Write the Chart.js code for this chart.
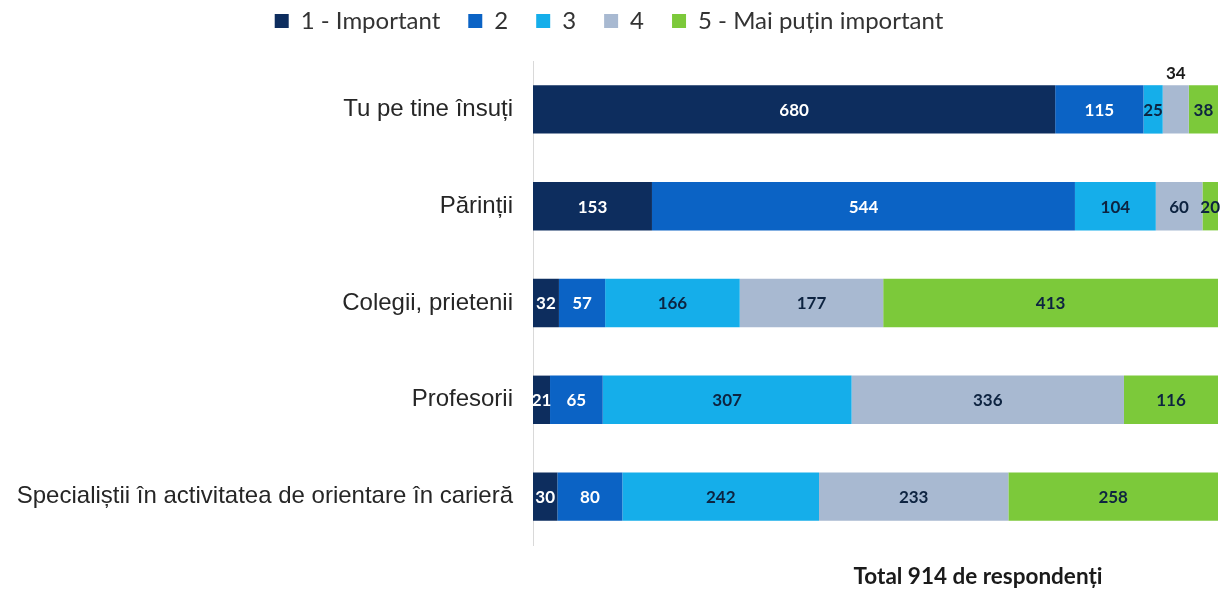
<!DOCTYPE html>
<html>
<head>
<meta charset="utf-8">
<script src="https://cdn.jsdelivr.net/npm/chart.js@4"></script>
<style>
  html, body { margin: 0; padding: 0; background: #fff; }
  #wrap { width: 1228px; height: 590px; position: relative; }
</style>
</head>
<body>
<div id="wrap"><canvas id="chart"></canvas></div>
<script>
// Categories and answer counts per importance level
const categories = [
  'Tu pe tine însuți',
  'Părinții',
  'Colegii, prietenii',
  'Profesorii',
  'Specialiștii în activitatea de orientare în carieră'
];
const seriesNames = ['1 - Important', '2', '3', '4', '5 - Mai puțin important'];
const level1 = [680, 153, 32, 21, 30];
const level2 = [115, 544, 57, 65, 80];
const level3 = [25, 104, 166, 307, 242];
const level4 = [34, 60, 177, 336, 233];
const level5 = [38, 20, 413, 116, 258];
const footerText = 'Total 914 de respondenți';

const seriesColors = ['#0d2d5e', '#0b63c5', '#15aeea', '#a8b9d1', '#7cc93a'];
const labelColors = ['#ffffff', '#ffffff', '#0d2340', '#0d2340', '#0d2340'];

const levels = [level1, level2, level3, level4, level5];
// row totals -> 100% stacked bars
const rowTotals = categories.map((c, i) => levels.reduce((s, arr) => s + arr[i], 0));

// the "34" label sits above its bar in the original
function isRaised(datasetIndex, index) {
  return datasetIndex === 3 && index === 0;
}

const valueLabels = {
  id: 'valueLabels',
  afterDatasetsDraw(chart) {
    const ctx = chart.ctx;
    ctx.save();
    ctx.font = 'bold 17px Lato, "Open Sans", sans-serif';
    ctx.textAlign = 'center';
    ctx.textBaseline = 'middle';
    chart.data.datasets.forEach((ds, di) => {
      const meta = chart.getDatasetMeta(di);
      meta.data.forEach((bar, i) => {
        const cx = (bar.x + bar.base) / 2;
        let cy = bar.y + 1;
        let color = labelColors[di];
        if (isRaised(di, i)) {
          cy = bar.y - bar.height / 2 - 12;
          color = '#1a1a1a';
        }
        ctx.fillStyle = color;
        ctx.fillText(String(levels[di][i]), cx, cy);
      });
    });
    ctx.restore();
  }
};

// extra gap between legend and plot
const legendGap = {
  id: 'legendGap',
  beforeInit(chart) {
    const fit = chart.legend.fit;
    chart.legend.fit = function() {
      fit.bind(chart.legend)();
      this.height += 18;
    };
  }
};

const footer = {
  id: 'footer',
  afterDraw(chart) {
    const ctx = chart.ctx;
    ctx.save();
    ctx.font = 'bold 22.5px Lato, "Open Sans", sans-serif';
    ctx.fillStyle = '#1a1a1a';
    ctx.textAlign = 'center';
    ctx.textBaseline = 'middle';
    const a = chart.chartArea;
    ctx.fillText(footerText, 978, a.bottom + 32);
    ctx.restore();
  }
};

new Chart(document.getElementById('chart'), {
  type: 'bar',
  data: {
    labels: categories,
    datasets: levels.map((arr, di) => ({
      label: seriesNames[di],
      data: arr.map((v, i) => v / rowTotals[i] * 100),
      backgroundColor: seriesColors[di],
      borderWidth: 0,
      barPercentage: 0.5,
      categoryPercentage: 1
    }))
  },
  options: {
    indexAxis: 'y',
    responsive: true,
    maintainAspectRatio: false,
    animation: false,
    layout: { padding: { top: -19, right: 10, bottom: 45, left: 0 } },
    scales: {
      x: {
        stacked: true,
        min: 0,
        max: 100,
        display: false
      },
      y: {
        stacked: true,
        grid: { display: false, drawTicks: false },
        border: { display: true, color: '#d9d9d9', width: 1 },
        ticks: {
          color: '#262626',
          padding: 20,
          font: { family: '"Liberation Sans", Arial, sans-serif', size: 24 }
        },
        afterFit(scale) { scale.width = 533; }
      }
    },
    plugins: {
      legend: {
        position: 'top',
        labels: {
          color: '#333',
          boxWidth: 14,
          boxHeight: 14,
          padding: 28,
          font: { family: 'Lato, sans-serif', size: 24 }
        }
      },
      tooltip: { enabled: false }
    }
  },
  plugins: [valueLabels, legendGap, footer]
});
</script>
</body>
</html>
